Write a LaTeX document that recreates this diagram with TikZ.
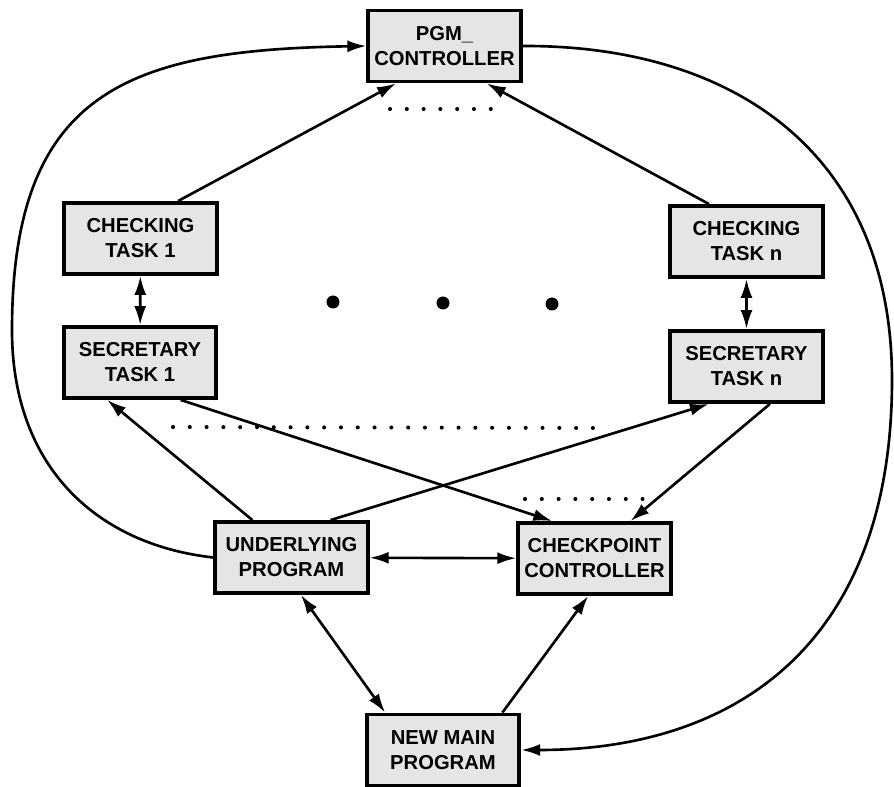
\documentclass[tikz,border=0pt]{standalone}
\usepackage{fontspec}
\setmainfont{Liberation Sans}
\usetikzlibrary{arrows.meta,calc}

\tikzset{
  taskbox/.style={draw, line width=2.2pt, fill=gray!20, align=center,
    minimum width=3.05cm, minimum height=1.42cm, inner sep=2pt,
    font=\fontsize{11.5}{14.2}\selectfont\bfseries},
  link/.style={line width=1.5pt},
  dotrow/.style={line width=2.3pt, line cap=round, dash pattern=on 0pt off 0.336cm}
}

\begin{document}
\begin{tikzpicture}[x=0.02cm, y=-0.02cm, >={Latex[length=3.8mm,width=2.4mm]}]
        \useasboundingbox (0,0) rectangle (894,787);

        % Boxes
        \node[taskbox] (pgm)     at (444.5,46)  {PGM\_\\CONTROLLER};
        \node[taskbox] (chk1)    at (140.5,238.5) {CHECKING\\TASK 1};
        \node[taskbox] (sec1)    at (140,362.5) {SECRETARY\\TASK 1};
        \node[taskbox] (chkn)    at (746.5,241.5) {CHECKING\\TASK n};
        \node[taskbox] (secn)    at (746.5,366.5) {SECRETARY\\TASK n};
        \node[taskbox] (under)   at (291.5,557.5) {UNDERLYING\\PROGRAM};
        \node[taskbox] (ckpt)    at (594.5,558.5) {CHECKPOINT\\CONTROLLER};
        \node[taskbox] (newmain) at (443,750)   {NEW MAIN\\PROGRAM};

        % Checking tasks to controller
        \draw[link,->] ($(chk1.north west)!.74!(chk1.north east)$) -- ($(pgm.south west)!.19!(pgm.south east)$);
        \draw[link,->] ($(chkn.north west)!.26!(chkn.north east)$) -- ($(pgm.south west)!.77!(pgm.south east)$);

        % Checking <-> secretary
        \draw[link,<->] (chk1) -- (sec1);
        \draw[link,<->] (chkn) -- (secn);

        % Underlying program and secretaries
        \draw[link,->] ($(under.north west)!.25!(under.north east)$) -- ($(sec1.south west)!.29!(sec1.south east)$);
        \draw[link,->] ($(under.north west)!.75!(under.north east)$) -- ($(secn.south west)!.26!(secn.south east)$);
        \draw[link,->] ($(sec1.south west)!.76!(sec1.south east)$) -- ($(ckpt.north west)!.23!(ckpt.north east)$);
        \draw[link,->] ($(secn.south west)!.65!(secn.south east)$) -- ($(ckpt.north west)!.73!(ckpt.north east)$);

        % Bottom part
        \draw[link,<->] (under) -- (ckpt);
        \draw[link,<->] ($(under.south west)!.56!(under.south east)$) -- ($(newmain.north west)!.13!(newmain.north east)$);
        \draw[link,->] ($(newmain.north west)!.88!(newmain.north east)$) -- ($(ckpt.south west)!.46!(ckpt.south east)$);

        % Outer curves
        \draw[link,->] (under.west) .. controls (100,545) and (12,470) .. (12,330)
            .. controls (12,90) and (130,50) .. (pgm.west);
        \draw[link,->] (pgm.east) .. controls (730,45) and (892,150) .. (892,380)
            .. controls (892,640) and (740,750) .. (newmain.east);

        % Dots
        \draw[dotrow] (390,109) -- (507,109);
        \draw[dotrow] (173,427) -- (593,428);
        \draw[dotrow] (525,499) -- (643,499);
        \fill (333,302) circle (0.13cm);
        \fill (443,303) circle (0.13cm);
        \fill (552,304) circle (0.13cm);
\end{tikzpicture}
\end{document}
